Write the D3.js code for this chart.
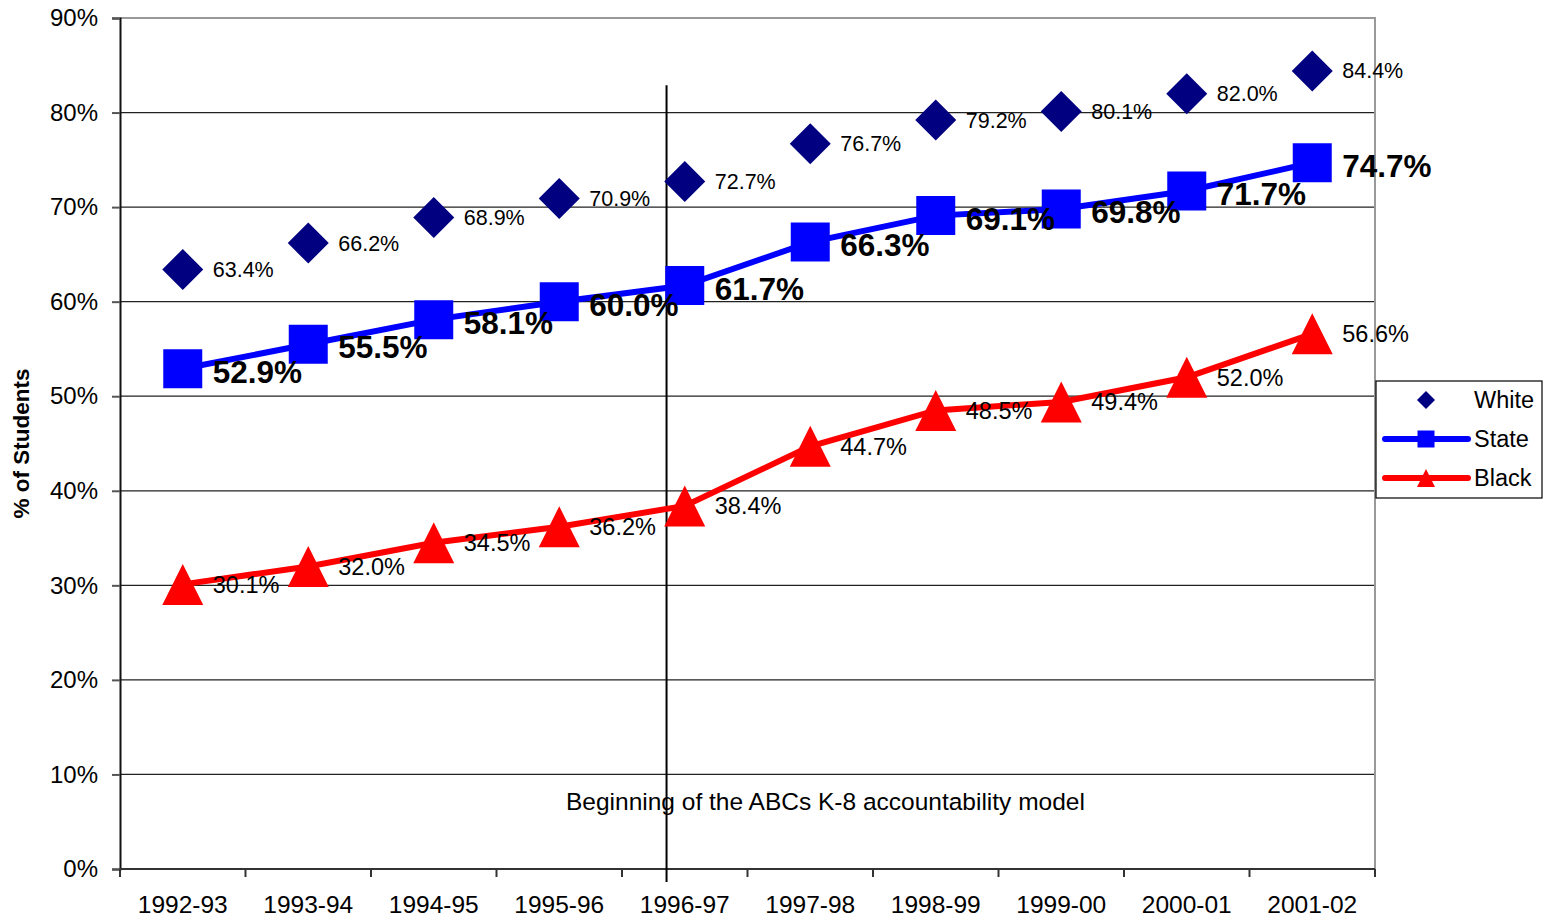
<!DOCTYPE html>
<html>
<head>
<meta charset="utf-8">
<script src="https://cdn.jsdelivr.net/npm/d3@7"></script>
<style>
  html, body { margin: 0; padding: 0; background: #fff; }
  svg { display: block; font-family: "Liberation Sans", Arial, sans-serif; }
</style>
</head>
<body>
<svg id="chart" width="1546" height="919"></svg>
<script>
// School years on the category axis
const years = ["1992-93","1993-94","1994-95","1995-96","1996-97","1997-98","1998-99","1999-00","2000-01","2001-02"];

// Percent of students at or above grade level, by group
const whiteValues = [63.4, 66.2, 68.9, 70.9, 72.7, 76.7, 79.2, 80.1, 82.0, 84.4];
const stateValues = [52.9, 55.5, 58.1, 60.0, 61.7, 66.3, 69.1, 69.8, 71.7, 74.7];
const blackValues = [30.1, 32.0, 34.5, 36.2, 38.4, 44.7, 48.5, 49.4, 52.0, 56.6];

// Value axis ticks
const yTicks = [0, 10, 20, 30, 40, 50, 60, 70, 80, 90];

const annotationText = "Beginning of the ABCs K-8 accountability model";

const svg = d3.select("#chart");
const plot = { left: 120, right: 1375, top: 18, bottom: 869 };

const x = d3.scaleBand().domain(years).range([plot.left, plot.right]).padding(0);
const y = d3.scaleLinear().domain([0, 90]).range([plot.bottom, plot.top]);
const cx = d => x(d) + x.bandwidth() / 2;

// Horizontal gridlines
svg.append("g").selectAll("line")
  .data(yTicks.filter(t => t > 0 && t < 90))
  .join("line")
  .attr("x1", plot.left).attr("x2", plot.right)
  .attr("y1", d => y(d)).attr("y2", d => y(d))
  .attr("stroke", "#222").attr("stroke-width", 1.2);

// Plot frame (top and right edges)
svg.append("path")
  .attr("d", `M${plot.left},${y(90)}H${plot.right}V${plot.bottom}`)
  .attr("fill", "none").attr("stroke", "#999").attr("stroke-width", 2);

// Y axis
const yAxis = d3.axisLeft(y).tickValues(yTicks).tickFormat(d => d + "%").tickSize(8).tickPadding(14);
const gy = svg.append("g").attr("transform", `translate(${plot.left},0)`).call(yAxis);
gy.select(".domain").attr("stroke", "#111").attr("stroke-width", 2);
gy.selectAll(".tick line").attr("stroke", "#555").attr("stroke-width", 2);
gy.selectAll("text").attr("font-size", 24).attr("fill", "#000").attr("font-family", "Liberation Sans, Arial, sans-serif");

// X axis: ticks sit on the category boundaries
const gx = svg.append("g").attr("transform", `translate(0,${plot.bottom})`);
gx.append("line").attr("x1", plot.left).attr("x2", plot.right).attr("y1", 0).attr("y2", 0)
  .attr("stroke", "#333").attr("stroke-width", 2);
const bounds = years.map(d => x(d)).concat([plot.right]);
gx.selectAll("line.tick").data(bounds).join("line").attr("class", "tick")
  .attr("x1", d => d).attr("x2", d => d).attr("y1", 0).attr("y2", 8)
  .attr("stroke", "#333").attr("stroke-width", 2);
gx.selectAll("text").data(years).join("text")
  .attr("x", d => cx(d)).attr("y", 44)
  .attr("text-anchor", "middle").attr("font-size", 24.5).attr("fill", "#000")
  .text(d => d);

// Y axis title
svg.append("text")
  .attr("transform", `translate(29,${(plot.top + plot.bottom) / 2}) rotate(-90)`)
  .attr("text-anchor", "middle").attr("font-size", 22.5).attr("font-weight", "bold")
  .text("% of Students");

// Accountability model start marker
const markerX = x("1996-97") + x.bandwidth() * 0.355;
svg.append("line")
  .attr("x1", markerX).attr("x2", markerX)
  .attr("y1", y(82.9)).attr("y2", plot.bottom + 13)
  .attr("stroke", "#000").attr("stroke-width", 2);
svg.append("text")
  .attr("x", x("1996-97") - 56).attr("y", y(7.1)).attr("dy", "0.35em")
  .attr("font-size", 24.5).attr("fill", "#000")
  .text(annotationText);

// Symbol paths
const diamond = r => `M0,${-r}L${r},0L0,${r}L${-r},0Z`;
const square = r => `M${-r},${-r}H${r}V${r}H${-r}Z`;
const triangle = r => `M0,${-r}L${r},${r}H${-r}Z`;

const line = d3.line().x((d, i) => cx(years[i])).y(d => y(d));

// State series
svg.append("path").datum(stateValues).attr("d", line)
  .attr("fill", "none").attr("stroke", "#0000FF").attr("stroke-width", 6);
// Black series
svg.append("path").datum(blackValues).attr("d", line)
  .attr("fill", "none").attr("stroke", "#FF0000").attr("stroke-width", 6);

function markers(values, pathFn, r, color) {
  svg.append("g").selectAll("path").data(values).join("path")
    .attr("transform", (d, i) => `translate(${cx(years[i])},${y(d)})`)
    .attr("d", pathFn(r)).attr("fill", color);
}
markers(whiteValues, diamond, 20.5, "#000080");
markers(stateValues, square, 19.5, "#0000FF");
markers(blackValues, triangle, 20.5, "#FF0000");

function labels(values, opts) {
  svg.append("g").selectAll("text").data(values).join("text")
    .attr("x", (d, i) => cx(years[i]) + 30)
    .attr("y", d => y(d) + opts.dy)
    .attr("dy", "0.35em")
    .attr("font-size", opts.size).attr("font-weight", opts.weight).attr("fill", "#000")
    .text(d => d.toFixed(1) + "%");
}
labels(whiteValues, { size: 21.5, weight: "normal", dy: 0 });
labels(stateValues, { size: 31.5, weight: "bold", dy: 3 });
labels(blackValues, { size: 23.5, weight: "normal", dy: 0 });

// Legend
const lg = svg.append("g").attr("transform", "translate(1376,381)");
lg.append("rect").attr("width", 166).attr("height", 117)
  .attr("fill", "#fff").attr("stroke", "#000").attr("stroke-width", 1.2);
const legendItems = [
  { name: "White", color: "#000080", sym: diamond(9), line: false },
  { name: "State", color: "#0000FF", sym: square(8.5), line: true },
  { name: "Black", color: "#FF0000", sym: triangle(9), line: true }
];
legendItems.forEach((it, i) => {
  const yy = 19 + i * 39;
  if (it.line) {
    lg.append("line").attr("x1", 9).attr("x2", 92).attr("y1", yy).attr("y2", yy)
      .attr("stroke", it.color).attr("stroke-width", 6).attr("stroke-linecap", "round");
  }
  lg.append("path").attr("transform", `translate(50,${yy})`).attr("d", it.sym).attr("fill", it.color);
  lg.append("text").attr("x", 98).attr("y", yy).attr("dy", "0.35em")
    .attr("font-size", 23.5).attr("fill", "#000").text(it.name);
});
</script>
</body>
</html>
